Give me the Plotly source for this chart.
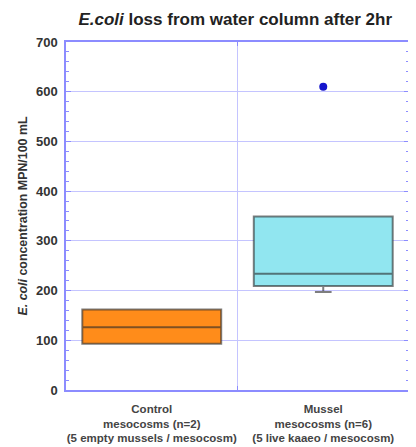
import plotly.graph_objects as go

categories = ["<b>Control</b><br><b>mesocosms (n=2)</b><br><b>(5 empty mussels / mesocosm)</b>",
              "<b>Mussel</b><br><b>mesocosms (n=6)</b><br><b>(5 live kaaeo / mesocosm)</b>"]
q1 = [93, 209]
median = [126, 234]
q3 = [162, 349]
lowerfence = [93, 197]
upperfence = [162, 349]
outliers = [[], [610]]
fill_colors = ["#FF8C1A", "#91E6F0"]

fig = go.Figure()
for i, cat in enumerate(categories):
    fig.add_trace(go.Box(
        x=[cat], q1=[q1[i]], median=[median[i]], q3=[q3[i]],
        lowerfence=[lowerfence[i]], upperfence=[upperfence[i]],
        fillcolor=fill_colors[i], width=0.81,
        line=dict(color="rgba(40,40,40,0.6)", width=2),
        boxpoints=False, whiskerwidth=0.12, showlegend=False,
    ))
    if outliers[i]:
        fig.add_trace(go.Scatter(
            x=[cat] * len(outliers[i]), y=outliers[i], mode="markers",
            marker=dict(color="#1515CC", size=8), showlegend=False,
        ))

axcol = "#8C8CFF"
gridcol = "#C4C4FF"
fig.update_layout(
    width=408, height=439,
    margin=dict(l=58, r=7, t=34, b=57),
    paper_bgcolor="white", plot_bgcolor="white",
    font=dict(family="Liberation Sans, Arial, sans-serif", color="#333"),
    title=dict(text="<b><i>E.coli</i> loss from water column after 2hr</b>",
               x=0.557, xanchor="center", y=0.975, yanchor="middle",
               font=dict(size=17, color="#222")),
    xaxis=dict(type="category", tickson="boundaries", showgrid=True,
               gridcolor=gridcol, gridwidth=1, automargin=False,
               showline=True, linecolor=axcol, linewidth=1.5, mirror="ticks",
               ticks="inside", ticklen=4, tickcolor=axcol, tickangle=0,
               ticklabelstandoff=7,
               tickfont=dict(size=11.5, color="#444"), range=[-0.5, 1.5]),
    yaxis=dict(range=[0, 700], dtick=100, showgrid=True,
               gridcolor=gridcol, gridwidth=1, automargin=False,
               showline=True, linecolor=axcol, linewidth=1.5, mirror="ticks",
               ticks="inside", ticklen=5, tickcolor=axcol, zeroline=False,
               ticklabelstandoff=4,
               minor=dict(dtick=20, ticks="inside", ticklen=3, tickcolor=axcol, showgrid=False),
               tickfont=dict(size=13, color="#333", weight="bold"),
               title=dict(text="<b><i>E. coli</i> concentration MPN/100 mL</b>",
                          font=dict(size=12.4, color="#333"), standoff=6)),
)
fig.write_html("out.html")
